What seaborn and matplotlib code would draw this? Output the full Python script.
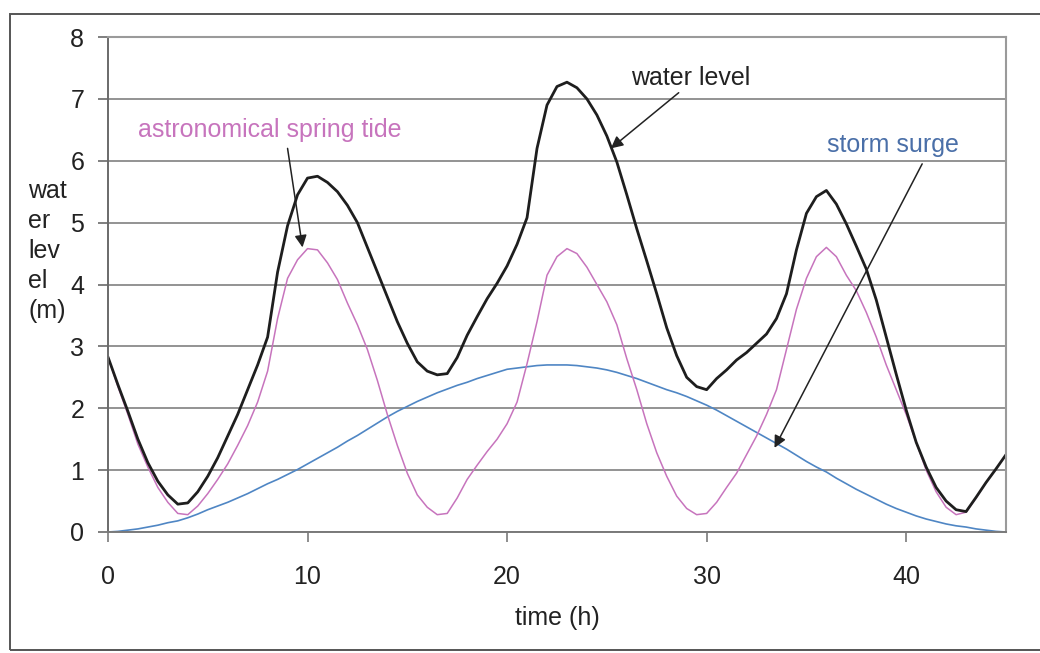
import numpy as np
import pandas as pd
import matplotlib
matplotlib.use("Agg")
import matplotlib.pyplot as plt
import seaborn as sns
from matplotlib.patches import Rectangle

# half-hourly readings, t = 0 .. 45 h
time_h = np.arange(0, 45.5, 0.5)

spring_tide = [2.83, 2.35, 1.90, 1.42, 1.05, 0.72, 0.48, 0.30, 0.28, 0.42,
               0.62, 0.85, 1.10, 1.40, 1.72, 2.10, 2.60, 3.45, 4.10, 4.40,
               4.58, 4.56, 4.35, 4.08, 3.70, 3.35, 2.95, 2.45, 1.90, 1.40,
               0.95, 0.60, 0.40, 0.28, 0.30, 0.55, 0.85, 1.08, 1.30, 1.50,
               1.75, 2.10, 2.72, 3.40, 4.15, 4.45, 4.58, 4.50, 4.28, 4.00,
               3.72, 3.35, 2.80, 2.30, 1.75, 1.28, 0.90, 0.58, 0.38, 0.28,
               0.30, 0.48, 0.72, 0.95, 1.25, 1.55, 1.90, 2.30, 2.95, 3.60,
               4.10, 4.45, 4.60, 4.45, 4.15, 3.90, 3.55, 3.15, 2.70, 2.30,
               1.90, 1.45, 1.00, 0.65, 0.40, 0.28, 0.32, 0.55, 0.80, 1.02,
               1.25]

water_level = [2.83, 2.38, 1.95, 1.50, 1.12, 0.82, 0.60, 0.45, 0.47, 0.65,
               0.90, 1.20, 1.55, 1.90, 2.30, 2.70, 3.15, 4.20, 4.95, 5.45,
               5.72, 5.75, 5.65, 5.50, 5.28, 5.00, 4.60, 4.20, 3.80, 3.40,
               3.05, 2.75, 2.60, 2.54, 2.56, 2.82, 3.18, 3.48, 3.77, 4.02,
               4.30, 4.65, 5.08, 6.20, 6.90, 7.20, 7.27, 7.18, 7.00, 6.74,
               6.40, 5.98, 5.45, 4.90, 4.38, 3.85, 3.30, 2.85, 2.50, 2.35,
               2.30, 2.48, 2.62, 2.78, 2.90, 3.05, 3.20, 3.45, 3.85, 4.56,
               5.15, 5.42, 5.52, 5.30, 4.98, 4.62, 4.25, 3.75, 3.15, 2.55,
               1.97, 1.45, 1.05, 0.72, 0.50, 0.36, 0.33, 0.56, 0.80, 1.02,
               1.25]

storm_surge = [0.00, 0.01, 0.03, 0.05, 0.08, 0.11, 0.15, 0.18, 0.23, 0.29,
               0.36, 0.42, 0.48, 0.55, 0.62, 0.70, 0.78, 0.85, 0.93, 1.01,
               1.10, 1.19, 1.28, 1.37, 1.47, 1.56, 1.66, 1.76, 1.86, 1.95,
               2.03, 2.11, 2.18, 2.25, 2.31, 2.37, 2.42, 2.48, 2.53, 2.58,
               2.63, 2.65, 2.67, 2.69, 2.70, 2.70, 2.70, 2.69, 2.67, 2.65,
               2.62, 2.58, 2.53, 2.48, 2.42, 2.36, 2.30, 2.25, 2.19, 2.12,
               2.05, 1.97, 1.88, 1.79, 1.70, 1.61, 1.52, 1.43, 1.34, 1.24,
               1.14, 1.05, 0.97, 0.87, 0.78, 0.69, 0.61, 0.53, 0.45, 0.38,
               0.32, 0.26, 0.21, 0.17, 0.13, 0.10, 0.08, 0.05, 0.03, 0.01,
               0.00]

x_ticks = [0, 10, 20, 30, 40]
y_ticks = [0, 1, 2, 3, 4, 5, 6, 7, 8]

df = pd.DataFrame({'time': time_h, 'tide': spring_tide,
                   'water': water_level, 'surge': storm_surge})

sns.set_style("white")
plt.rcParams['font.family'] = ['Liberation Sans', 'DejaVu Sans']

c_black = '#1e1e1e'
c_tide = '#c774bd'
c_surge = '#4f86c4'
c_grid = '#8a8a8a'
c_text = '#222222'

fig = plt.figure(figsize=(10.4, 6.53), dpi=100)
ax = fig.add_axes([0.1038, 0.1853, 0.8635, 0.758])

# outer frame (runs off the right edge like the scan)
fig.patches.append(Rectangle((10 / 1040, 3 / 653), 1.2, 636 / 653,
                             transform=fig.transFigure, fill=False,
                             edgecolor='#555555', linewidth=1.4, zorder=0))

sns.lineplot(data=df, x='time', y='surge', ax=ax, color=c_surge, linewidth=1.2)
sns.lineplot(data=df, x='time', y='tide', ax=ax, color=c_tide, linewidth=1.1)
sns.lineplot(data=df, x='time', y='water', ax=ax, color=c_black, linewidth=2.0)

ax.set_xlim(0, 45)
ax.set_ylim(0, 8)
ax.set_xticks(x_ticks)
ax.set_yticks(y_ticks)
ax.yaxis.grid(True, color=c_grid, linewidth=1.3)
ax.set_axisbelow(True)

for side in ['top', 'right']:
    ax.spines[side].set_color('#9a9a9a')
    ax.spines[side].set_linewidth(1.5)
ax.spines['left'].set_color('#6a6a6a')
ax.spines['bottom'].set_color('#7a7a7a')
ax.spines['left'].set_linewidth(1.4)
ax.spines['bottom'].set_linewidth(1.4)

ax.tick_params(axis='y', direction='out', length=7, width=1.2, color='#6a6a6a',
               pad=10, labelsize=18, labelcolor=c_text, left=True)
ax.tick_params(axis='x', direction='out', length=7, width=1.2, color='#7a7a7a',
               pad=17, labelsize=18, labelcolor=c_text, bottom=True)

ax.set_xlabel('time (h)', fontsize=18, color=c_text, labelpad=12)
ax.set_ylabel('')
fig.text(28 / 1040, 1 - 251 / 653, 'wat\ner\nlev\nel\n(m)', fontsize=18,
         color=c_text, ha='left', va='center', linespacing=1.32)

# labels with arrows
arrow = dict(arrowstyle='-|>', color=c_text, linewidth=1.1,
             mutation_scale=18, shrinkA=0, shrinkB=0)

ax.text(26.2, 7.33, 'water level', fontsize=18, color=c_text,
        ha='left', va='center')
ax.annotate('', xy=(25.2, 6.2), xytext=(28.6, 7.1), arrowprops=arrow)

ax.text(1.5, 6.49, 'astronomical spring tide', fontsize=18, color=c_tide,
        ha='left', va='center')
ax.annotate('', xy=(9.75, 4.6), xytext=(9.0, 6.2), arrowprops=arrow)

ax.text(36.05, 6.25, 'storm surge', fontsize=18, color='#4a6fa8',
        ha='left', va='center')
ax.annotate('', xy=(33.4, 1.36), xytext=(40.8, 5.95), arrowprops=arrow)

fig.savefig('out.png', dpi=100)
